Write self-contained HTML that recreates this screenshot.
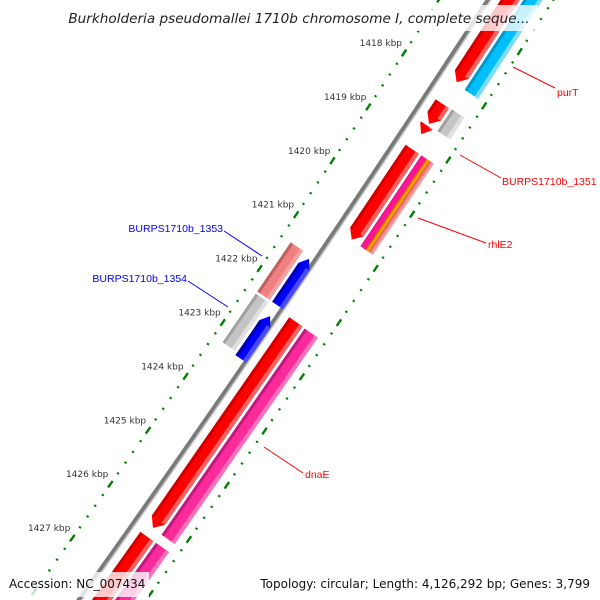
<!DOCTYPE html>
<html><head><meta charset="utf-8"><style>
html,body{margin:0;padding:0;background:#fff;width:600px;height:600px;overflow:hidden;}
svg{display:block;font-family:"DejaVu Sans","Liberation Sans",sans-serif;}
</style></head><body>
<svg id="map" width="600" height="600" viewBox="0 0 600 600" xmlns="http://www.w3.org/2000/svg">
<g id="ticks"></g>
<g id="backbone"></g>
<g id="feats"></g>
<g id="labels" font-family="Liberation Sans, sans-serif">
  <line x1="513" y1="67" x2="555" y2="88" stroke="#f00" stroke-width="1"/>
  <text x="557" y="96" font-size="10.5" fill="#f00">purT</text>
  <line x1="460" y1="155" x2="501" y2="178" stroke="#f00" stroke-width="1"/>
  <text x="502" y="185" font-size="10.5" fill="#f00">BURPS1710b_1351</text>
  <line x1="418" y1="218" x2="486" y2="243" stroke="#f00" stroke-width="1"/>
  <text x="488" y="248" font-size="10.5" fill="#f00">rhlE2</text>
  <line x1="264" y1="447" x2="303" y2="473" stroke="#f00" stroke-width="1"/>
  <text x="305" y="478" font-size="10.5" fill="#f00">dnaE</text>
  <line x1="224" y1="231" x2="262" y2="256" stroke="#00f" stroke-width="1"/>
  <text x="223" y="232" font-size="10.5" fill="#00f" text-anchor="end">BURPS1710b_1353</text>
  <line x1="188" y1="281" x2="228" y2="307" stroke="#00f" stroke-width="1"/>
  <text x="187" y="282" font-size="10.5" fill="#00f" text-anchor="end">BURPS1710b_1354</text>
</g>
<rect x="62" y="5" width="476" height="26" fill="#fff" opacity="0.78"/>
<text x="299" y="23" font-size="13.6" font-style="italic" fill="#222" text-anchor="middle">Burkholderia pseudomallei 1710b chromosome I, complete seque...</text>
<rect x="5" y="572" width="144" height="25" fill="#fff" opacity="0.78"/>
<text x="9" y="588" font-size="12" fill="#111">Accession: NC_007434</text>
<rect x="255" y="572" width="341" height="25" fill="#fff" opacity="0.78"/>
<text x="590" y="588" font-size="12" fill="#111" text-anchor="end">Topology: circular; Length: 4,126,292 bp; Genes: 3,799</text>
</svg>
<script>
// tick data (kbp)
const majorTicks=[1416,1417,1418,1419,1420,1421,1422,1423,1424,1425,1426,1427,1428,1429];
const tickLabels=["1418 kbp","1419 kbp","1420 kbp","1421 kbp","1422 kbp","1423 kbp","1424 kbp","1425 kbp","1426 kbp","1427 kbp"];
const labelPos=[1418,1419,1420,1421,1422,1423,1424,1425,1426,1427];
// features: names, start kbp, end kbp, lane, arrow end, colour
const featNames=["gene-upper-red","purT","small-red-1","small-red-2","burps1710b-1351","red-1420","rhlE2-magenta","rhlE2-orange","rhlE2-coral","burps1710b-1353","burps1710b-1354","gray-1423","burps1710b-1354b","dnaE","dnaE-pink","red-1428","pink-1428","red-1429"];
const featStart=[1416.0,1416.0,1418.33,1418.74,1418.32,1419.17,1419.17,1419.17,1419.17,1421.40,1421.45,1422.35,1422.51,1422.36,1422.37,1426.33,1426.33,1428.9];
const featEnd=[1417.93,1417.96,1418.70,1418.9,1418.72,1420.84,1420.85,1420.85,1420.85,1422.31,1422.31,1423.25,1423.30,1426.17,1426.18,1428.75,1429.5,1429.6];
const featR1=[52,71,52,52,71,52,71,77,81,11,29,11,29,52,71,52,71,52];
const featR2=[68,87,68,66,86,68,77,81,86,26,42,26,42,68,87,68,87,68];
const featArrow=[1,0,1,1,0,1,0,0,0,0,-1,0,-1,1,0,1,0,0];
const featColor=["red","cyan","red","red","gray","red","magenta","orange","coral","coral","blue","gray","blue","red","pink","red","pink","red"];

const pal={red:["#d00000","#ff0000","#ff6060"],cyan:["#0099cc","#00bfff","#80dcff"],gray:["#a0a0a0","#c4c4c4","#e0e0e0"],
 magenta:["#d01080","#ff1493","#ff1493"],orange:["#c06000","#ff9900","#ff9900"],coral:["#c06060","#f08080","#f4a0a0"],
 blue:["#0000b0","#0000ff","#4848ff"],pink:["#c01a80","#ff2a9a","#ff70bb"]};
const NS="http://www.w3.org/2000/svg";
function pt(p,r){const d=p-1418;const x=404-35.5*d-0.15*d*d,y=53+53.9*d;
 const nx=53.9,ny=35.5+0.3*d,l=Math.hypot(nx,ny);return [x+r*nx/l,y+r*ny/l];}
function tan(p){const d=p-1418;const tx=-35.5-0.3*d,ty=53.9,l=Math.hypot(tx,ty);return [tx/l,ty/l];}
function poly(pts){return pts.map(q=>q[0].toFixed(1)+","+q[1].toFixed(1)).join(" ");}
const tg=document.getElementById('ticks');
[0,96].forEach(function(r){
 for(let k=0;k<majorTicks.length-1;k++){
  for(let j=0;j<5;j++){
   const p=majorTicks[k]+j*0.2;const c=pt(p,r);const t=tan(p);const L=j===0?4:1;
   const ln=document.createElementNS(NS,'line');
   
   
   ln.setAttribute('x1',c[0]-t[0]*L);ln.setAttribute('y1',c[1]-t[1]*L);
   ln.setAttribute('x2',c[0]+t[0]*L);ln.setAttribute('y2',c[1]+t[1]*L);
   ln.setAttribute('stroke','#008000');ln.setAttribute('stroke-width',2.4);
   tg.appendChild(ln);
  }
 }
});
labelPos.forEach(function(p,i){const c=pt(p,0);
 const t=document.createElementNS(NS,'text');
 
 
 t.setAttribute('x',c[0]-2);t.setAttribute('y',c[1]-7);t.setAttribute('text-anchor','end');
 t.setAttribute('font-size','9');t.setAttribute('fill','#333');t.textContent=tickLabels[i];tg.appendChild(t);});
const bg=document.getElementById('backbone');
function path(r){const a=[];for(let p=1416;p<=1429.8;p+=0.25)a.push(pt(p,r));return poly(a);}
[[41.5,5,"#7a7a7a"],[43.5,1.5,"#c8c8c8"]].forEach(function(s){
 const pl=document.createElementNS(NS,'polyline');
 
 
 pl.setAttribute('points',path(s[0]));pl.setAttribute('fill','none');pl.setAttribute('stroke',s[2]);pl.setAttribute('stroke-width',s[1]);bg.appendChild(pl);});
const fg=document.getElementById('feats');
const AH=0.14;
function shape(p1,p2,r1,r2,arrow){const m=(r1+r2)/2;
 if(arrow===1)return [pt(p1,r1),pt(p1,r2),pt(p2-AH,r2),pt(p2,m),pt(p2-AH,r1)];
 if(arrow===-1)return [pt(p1+AH,r1),pt(p1,m),pt(p1+AH,r2),pt(p2,r2),pt(p2,r1)];
 return [pt(p1,r1),pt(p1,r2),pt(p2,r2),pt(p2,r1)];}
featNames.forEach(function(n,i){
 const g=document.createElementNS(NS,'g');
 
 
 const c=pal[featColor[i]],p1=featStart[i],p2=featEnd[i],r1=featR1[i],r2=featR2[i],a=featArrow[i];
 const w=r2-r1,e=w>8?3:1;
 [[r1,r2,c[1]],[r1,r1+e,c[0]],[r2-e-1,r2,c[2]]].forEach(function(s,k){
  const q1=k===0?p1:p1+(a===-1?AH:0), q2=k===0?p2:p2-(a===1?AH:0);
  const pg=document.createElementNS(NS,'polygon');
  
  
  pg.setAttribute('points',poly(k===0?shape(q1,q2,s[0],s[1],a):shape(q1,q2,s[0],s[1],0)));
  pg.setAttribute('fill',s[2]);g.appendChild(pg);});
 fg.appendChild(g);});
</script>
</body></html>
